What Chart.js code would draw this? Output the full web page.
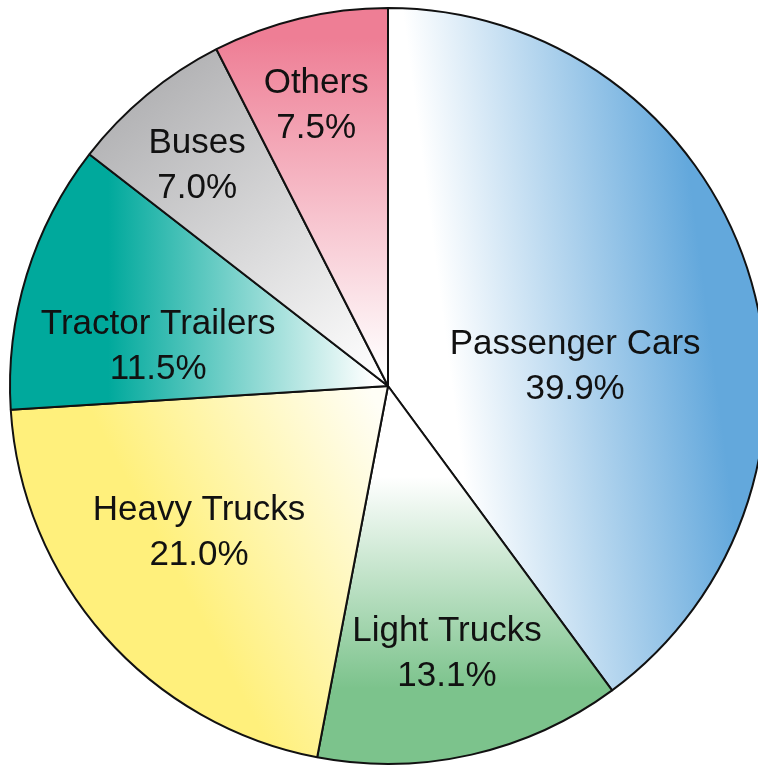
<!DOCTYPE html>
<html>
<head>
<meta charset="utf-8">
<script src="https://cdn.jsdelivr.net/npm/chart.js@4/dist/chart.umd.min.js"></script>
<style>
  html, body { margin: 0; padding: 0; background: #ffffff; overflow: hidden; width: 758px; height: 766px; }
  #wrap { position: absolute; left: 0; top: 0; width: 780px; height: 766px; }
</style>
</head>
<body>
<div id="wrap"><canvas id="c" width="780" height="766"></canvas></div>
<script>
// ---- data ----
const categories = ["Passenger Cars", "Light Trucks", "Heavy Trucks", "Tractor Trailers", "Buses", "Others"];
const shares = [39.9, 13.1, 21.0, 11.5, 7.0, 7.5];
const valueLabels = ["39.9%", "13.1%", "21.0%", "11.5%", "7.0%", "7.5%"];

// ---- styling (gradient endpoints in units of radius from pie centre) ----
const gradientSpecs = [
  { from: [0.17, 0.01], to: [0.86, -0.08], c0: "#ffffff", c1: "#63a8dc" },
  { from: [0, 0.24], to: [0, 0.80], c0: "#ffffff", c1: "#7cc38c" },
  { from: [-0.62, 0.38], to: [-0.02, 0.06], c0: "#fff07c", c1: "#fffef6" },
  { from: [-0.74, 0], to: [-0.04, 0], c0: "#00a99c", c1: "#ffffff" },
  { from: [-0.62, -0.78], to: [-0.02, -0.02], c0: "#b4b4b6", c1: "#ffffff" },
  { from: [0, -0.92], to: [0, -0.04], c0: "#ee7e95", c1: "#ffffff" }
];
const labelOffsets = [
  [0.495, -0.052], [0.156, 0.706], [-0.500, 0.386], [-0.608, -0.106], [-0.505, -0.585], [-0.190, -0.743]
];
const BORDER = 2;

function pieGeom(chart) {
  const a = chart.chartArea;
  return {
    cx: (a.left + a.right) / 2,
    cy: (a.top + a.bottom) / 2,
    R: (Math.min(a.width, a.height) - BORDER) / 2
  };
}

function sliceFill(ctx) {
  const chart = ctx.chart;
  const a = chart.chartArea;
  if (!a || !isFinite(a.left) || !isFinite(a.width)) return "#cccccc";
  const { cx, cy, R } = pieGeom(chart);
  const g = gradientSpecs[ctx.dataIndex];
  if (!g || !isFinite(R) || R <= 0) return "#cccccc";
  const grad = chart.ctx.createLinearGradient(cx + g.from[0] * R, cy + g.from[1] * R, cx + g.to[0] * R, cy + g.to[1] * R);
  grad.addColorStop(0, g.c0);
  grad.addColorStop(1, g.c1);
  return grad;
}

const labelPlugin = {
  id: "sliceLabels",
  afterDatasetsDraw(chart) {
    const meta = chart.getDatasetMeta(0);
    const ctx = chart.ctx;
    const { cx, cy, R } = pieGeom(chart);
    ctx.save();
    ctx.fillStyle = "#111111";
    ctx.font = "35px 'Liberation Sans', Arial, sans-serif";
    ctx.textAlign = "center";
    ctx.textBaseline = "middle";
    meta.data.forEach((arc, i) => {
      const x = cx + labelOffsets[i][0] * R;
      const y = cy + labelOffsets[i][1] * R;
      ctx.fillText(categories[i], x, y - 22);
      ctx.fillText(valueLabels[i], x, y + 23);
    });
    ctx.restore();
  }
};

new Chart(document.getElementById("c"), {
  type: "pie",
  data: {
    labels: categories,
    datasets: [{
      data: shares,
      backgroundColor: sliceFill,
      borderColor: "#111111",
      borderWidth: BORDER,
      hoverOffset: 0
    }]
  },
  options: {
    responsive: false,
    animation: false,
    events: [],
    layout: { padding: { left: 9, right: 13, top: 7, bottom: 1 } },
    plugins: {
      legend: { display: false },
      tooltip: { enabled: false },
      title: { display: false }
    }
  },
  plugins: [labelPlugin]
});
</script>
</body>
</html>
